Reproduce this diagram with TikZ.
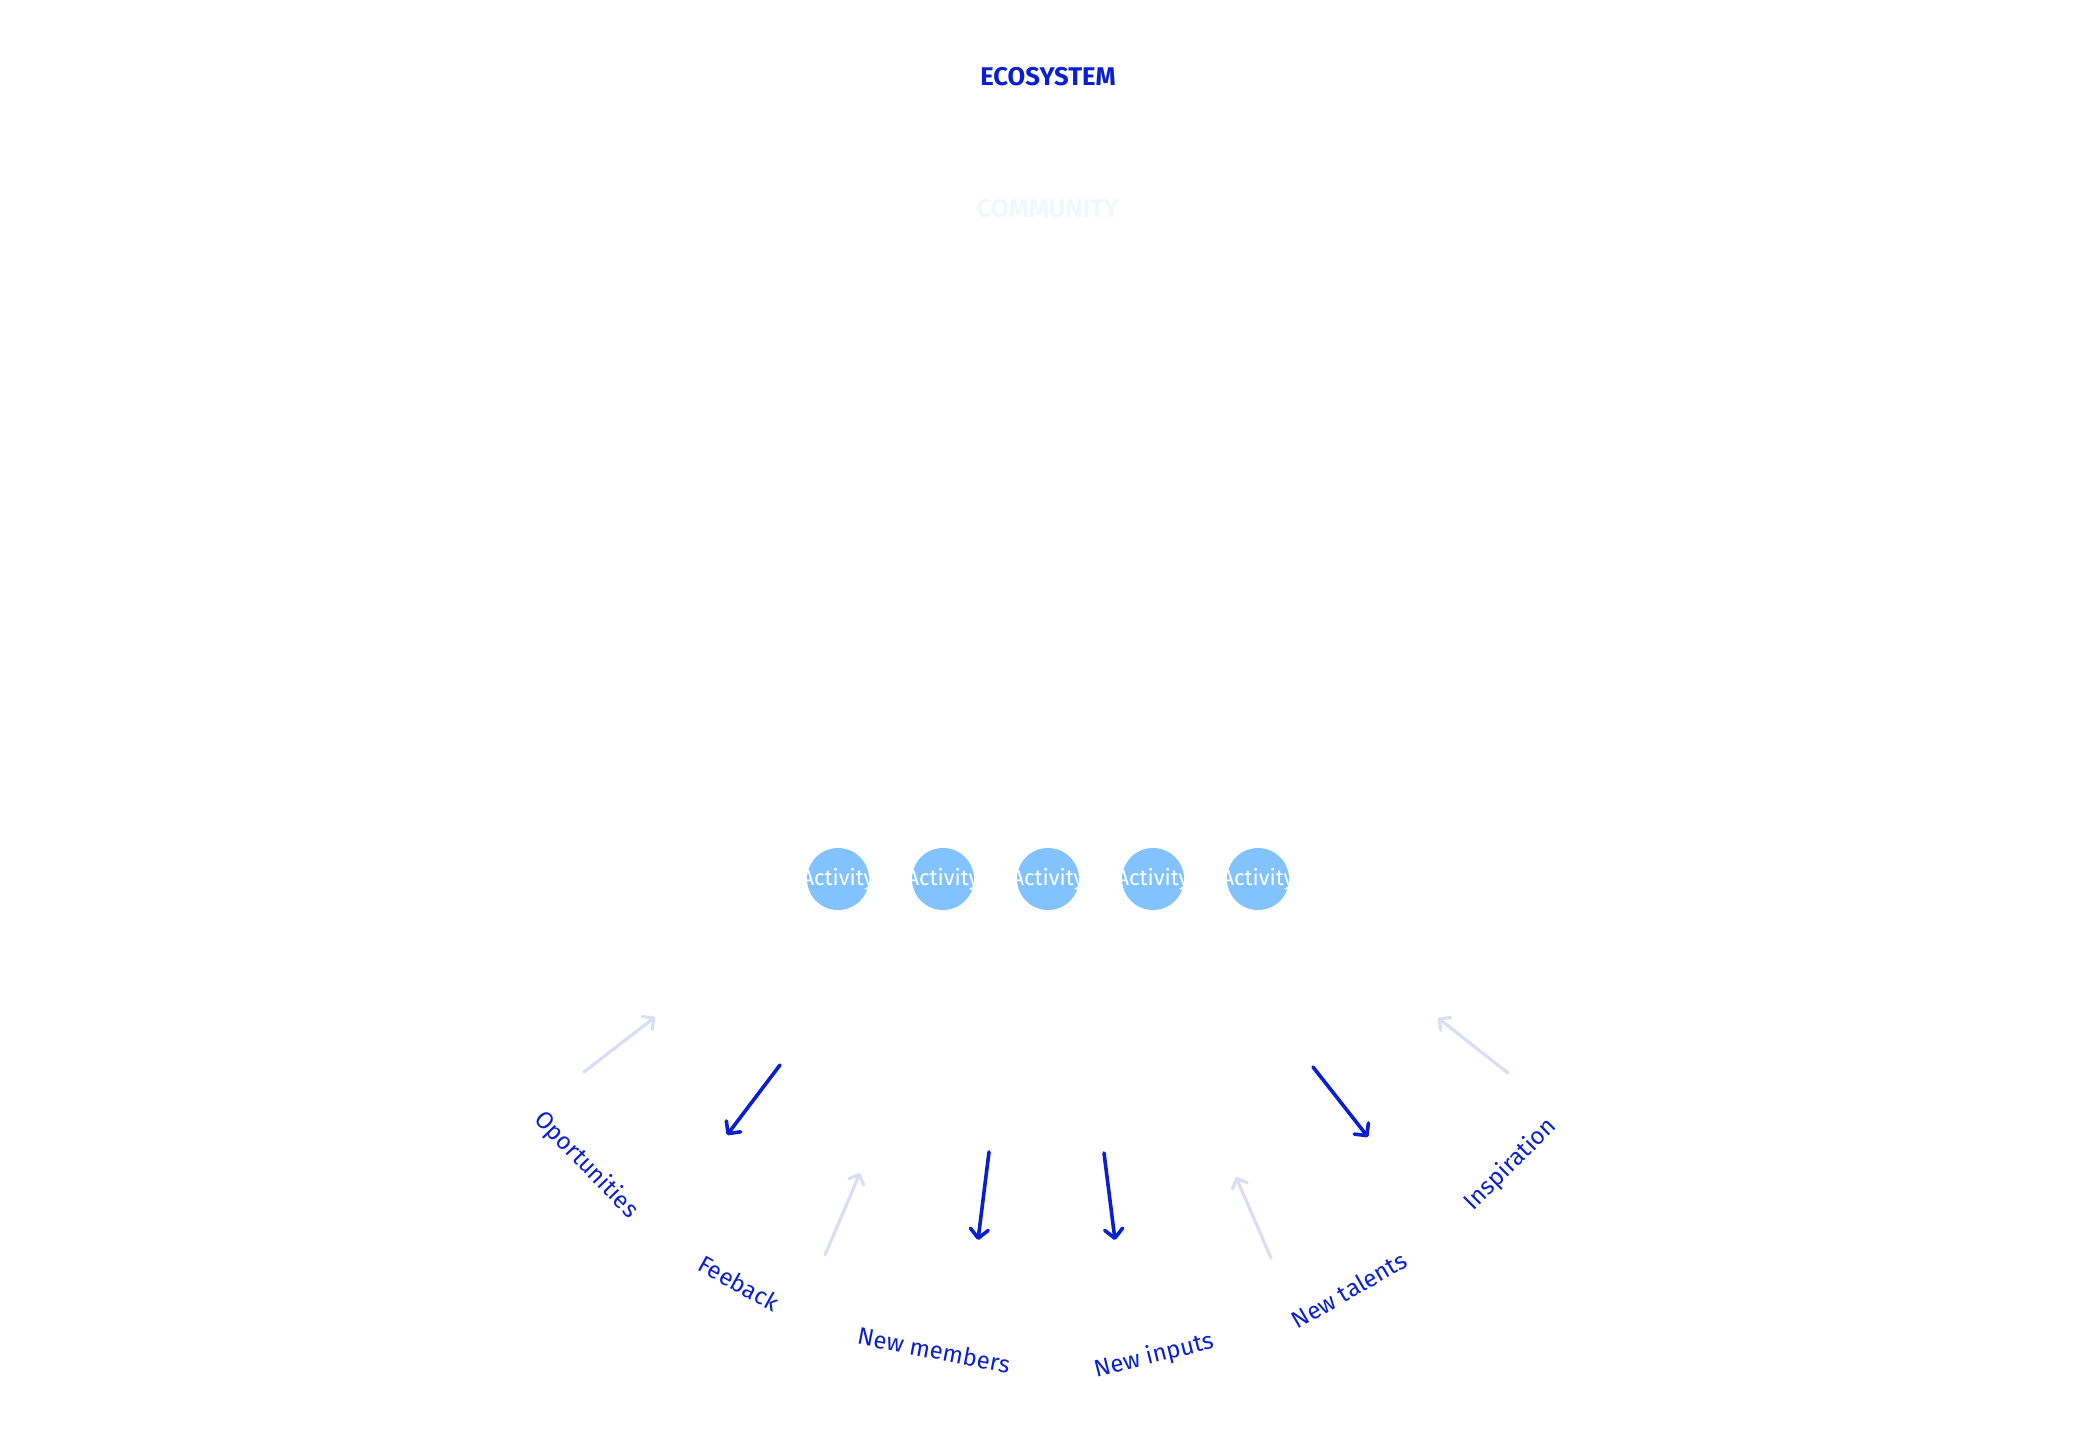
\documentclass[tikz,border=0pt]{standalone}
\usepackage{fontspec}
\setmainfont{Fira Sans}
\usetikzlibrary{arrows.meta}
\definecolor{deepblue}{HTML}{0A1FD2}
\definecolor{paleblue}{HTML}{D9DDF6}
\definecolor{skyblue}{HTML}{82C3FF}
\definecolor{ghost}{HTML}{F5F6FA}
\begin{document}
\begin{tikzpicture}[x=0.5pt,y=-0.5pt]
		\tikzstyle{activity}=[circle,fill=skyblue,minimum size=31pt,inner sep=0pt,text=white,font=\fontsize{11}{12}\selectfont]
		\tikzstyle{flow}=[text=deepblue,font=\fontsize{12}{13}\selectfont]
		\tikzstyle{give}=[draw=deepblue,line width=1.8pt,line cap=round,-{Straight Barb[length=4.5pt,width=9pt,round]}]
		\tikzstyle{take}=[draw=paleblue,line width=1.6pt,line cap=round,-{Straight Barb[length=4pt,width=8pt,round]}]
		\useasboundingbox (0,0) rectangle (2097,1433);
		\node[text=deepblue,font=\bfseries\fontsize{12.8}{13}\selectfont] (eco) at (1048,77) {ECOSYSTEM};
		\node[text=ghost,font=\bfseries\fontsize{12.8}{13}\selectfont] (com) at (1048,209) {COMMUNITY};
		\node[activity] (a_1) at (838,879) {\makebox[0pt]{Activity}};
		\node[activity] (a_2) at (943,879) {\makebox[0pt]{Activity}};
		\node[activity] (a_3) at (1048,879) {\makebox[0pt]{Activity}};
		\node[activity] (a_4) at (1153,879) {\makebox[0pt]{Activity}};
		\node[activity] (a_5) at (1258,879) {\makebox[0pt]{Activity}};
		\node[flow,rotate=-46] (l_1) at (586,1165) {Oportunities};
		\node[flow,rotate=-29] (l_2) at (739,1283) {Feeback};
		\node[flow,rotate=-11] (l_3) at (934,1350) {New members};
		\node[flow,rotate=14] (l_4) at (1154,1356) {New inputs};
		\node[flow,rotate=30] (l_5) at (1349,1290) {New talents};
		\node[flow,rotate=45] (l_6) at (1511,1165) {Inspiration};
		\coordinate (p_1) at (584,1072);  \coordinate (q_1) at (655,1017);
		\coordinate (p_2) at (780,1065);  \coordinate (q_2) at (727,1135);
		\coordinate (p_3) at (825,1255);  \coordinate (q_3) at (860,1173);
		\coordinate (p_4) at (989,1152);  \coordinate (q_4) at (978,1240);
		\coordinate (p_5) at (1104,1153); \coordinate (q_5) at (1115,1240);
		\coordinate (p_6) at (1271,1258); \coordinate (q_6) at (1236,1177);
		\coordinate (p_7) at (1313,1067); \coordinate (q_7) at (1368,1137);
		\coordinate (p_8) at (1508,1073); \coordinate (q_8) at (1438,1018);
		\draw[take] (p_1) -- (q_1);
		\draw[give] (p_2) -- (q_2);
		\draw[take] (p_3) -- (q_3);
		\draw[give] (p_4) -- (q_4);
		\draw[give] (p_5) -- (q_5);
		\draw[take] (p_6) -- (q_6);
		\draw[give] (p_7) -- (q_7);
		\draw[take] (p_8) -- (q_8);
	\end{tikzpicture}
\end{document}
